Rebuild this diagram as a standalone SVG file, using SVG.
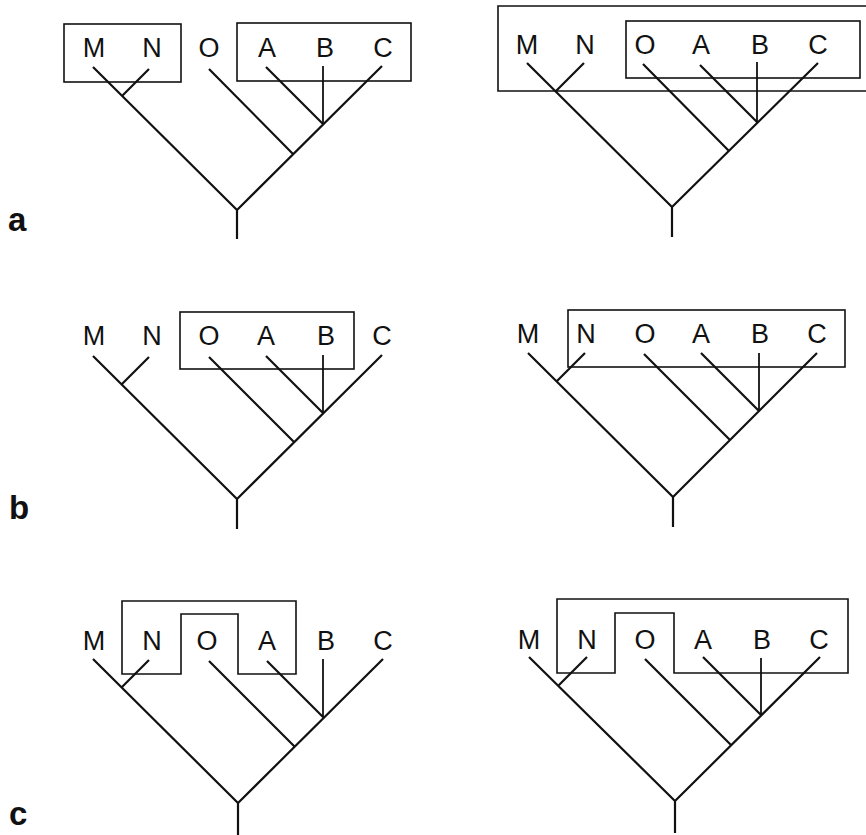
<svg xmlns="http://www.w3.org/2000/svg" width="866" height="835" viewBox="0 0 866 835">
<style>
.t{stroke:#111;stroke-width:2.2;fill:none;stroke-linecap:butt}
.b{stroke:#111;stroke-width:1.6;fill:none}
.v{stroke:#111;stroke-width:1.8;fill:none}
.lab{font-family:"Liberation Sans",Arial,sans-serif;font-size:27px;fill:#111;text-anchor:middle}
.pl{font-family:"Liberation Sans",Arial,sans-serif;font-size:33px;font-weight:bold;fill:#111}
</style>
<rect width="866" height="835" fill="#fff"/>

<!-- panel a left -->
<g id="a-left">
  <g id="a-left-boxes">
    <rect class="b" x="64" y="24" width="117" height="58"/>
    <rect class="b" x="237" y="23" width="174" height="58"/>
  </g>
  <g id="a-left-labels">
    <text class="lab" x="94" y="57">M</text>
    <text class="lab" x="152" y="57">N</text>
    <text class="lab" x="209" y="57">O</text>
    <text class="lab" x="267" y="57">A</text>
    <text class="lab" x="325" y="57">B</text>
    <text class="lab" x="383" y="57">C</text>
  </g>
  <g id="a-left-connectors">
    <path class="t" d="M237,239 V210 M237,210 L93,67 M122,96 L149,69 M237,210 L382,66 M293,154 L209,69 M323,124 L266,67"/>
    <path class="v" d="M323,124 V66"/>
  </g>
</g>

<!-- panel a right -->
<g id="a-right">
  <g id="a-right-boxes">
    <path class="b" d="M868,6 H498 V91 H868"/>
    <rect class="b" x="626" y="21" width="234" height="57"/>
  </g>
  <g id="a-right-labels">
    <text class="lab" x="527" y="54">M</text>
    <text class="lab" x="585" y="54">N</text>
    <text class="lab" x="645" y="54">O</text>
    <text class="lab" x="701" y="54">A</text>
    <text class="lab" x="760" y="54">B</text>
    <text class="lab" x="818" y="54">C</text>
  </g>
  <g id="a-right-connectors">
    <path class="t" d="M672,237 V207 M672,207 L527,63 M556,91 L584,63 M672,207 L818,63 M729,151 L643,64 M757,122 L700,65"/>
    <path class="v" d="M757,122 V62"/>
  </g>
</g>

<!-- panel b left -->
<g id="b-left">
  <g id="b-left-boxes">
    <rect class="b" x="180" y="312" width="174" height="57"/>
  </g>
  <g id="b-left-labels">
    <text class="lab" x="94" y="345">M</text>
    <text class="lab" x="152" y="345">N</text>
    <text class="lab" x="209" y="345">O</text>
    <text class="lab" x="266" y="345">A</text>
    <text class="lab" x="326" y="345">B</text>
    <text class="lab" x="382" y="345">C</text>
  </g>
  <g id="b-left-connectors">
    <path class="t" d="M237,529 V499 M237,499 L93,356 M122,384 L149,357 M237,499 L382,355 M294,442 L209,357 M323,413 L266,356"/>
    <path class="v" d="M323,413 V355"/>
  </g>
</g>

<!-- panel b right -->
<g id="b-right">
  <g id="b-right-boxes">
    <rect class="b" x="568" y="310" width="277" height="57"/>
  </g>
  <g id="b-right-labels">
    <text class="lab" x="528" y="343">M</text>
    <text class="lab" x="586" y="343">N</text>
    <text class="lab" x="645" y="343">O</text>
    <text class="lab" x="701" y="343">A</text>
    <text class="lab" x="760" y="343">B</text>
    <text class="lab" x="817" y="343">C</text>
  </g>
  <g id="b-right-connectors">
    <path class="t" d="M673,527 V497 M673,497 L528,353 M557,381 L585,353 M673,497 L817,353 M730,440 L644,354 M759,411 L701,353"/>
    <path class="v" d="M759,411 V353"/>
  </g>
</g>

<!-- panel c left -->
<g id="c-left">
  <g id="c-left-boxes">
    <path class="b" d="M122,601 H296 V674 H238 V614 H181 V674 H122 Z"/>
  </g>
  <g id="c-left-labels">
    <text class="lab" x="94" y="650">M</text>
    <text class="lab" x="152" y="650">N</text>
    <text class="lab" x="207" y="650">O</text>
    <text class="lab" x="267" y="650">A</text>
    <text class="lab" x="326" y="650">B</text>
    <text class="lab" x="383" y="650">C</text>
  </g>
  <g id="c-left-connectors">
    <path class="t" d="M238,835 V803 M238,803 L93,659 M122,687 L149,660 M238,803 L383,659 M294,746 L209,661 M323,717 L267,661"/>
    <path class="v" d="M323,717 V659"/>
  </g>
</g>

<!-- panel c right -->
<g id="c-right">
  <g id="c-right-boxes">
    <path class="b" d="M557,599 H848 V673 H674 V613 H615 V673 H557 Z"/>
  </g>
  <g id="c-right-labels">
    <text class="lab" x="529" y="649">M</text>
    <text class="lab" x="587" y="649">N</text>
    <text class="lab" x="645" y="649">O</text>
    <text class="lab" x="703" y="649">A</text>
    <text class="lab" x="762" y="649">B</text>
    <text class="lab" x="819" y="649">C</text>
  </g>
  <g id="c-right-connectors">
    <path class="t" d="M675,833 V801 M675,801 L529,657 M559,685 L587,657 M675,801 L820,657 M731,745 L645,659 M761,715 L703,657"/>
    <path class="v" d="M761,715 V658"/>
  </g>
</g>

<g id="panel-letters">
  <text class="pl" x="8" y="231">a</text>
  <text class="pl" x="9" y="519">b</text>
  <text class="pl" x="9" y="825">c</text>
</g>
</svg>
